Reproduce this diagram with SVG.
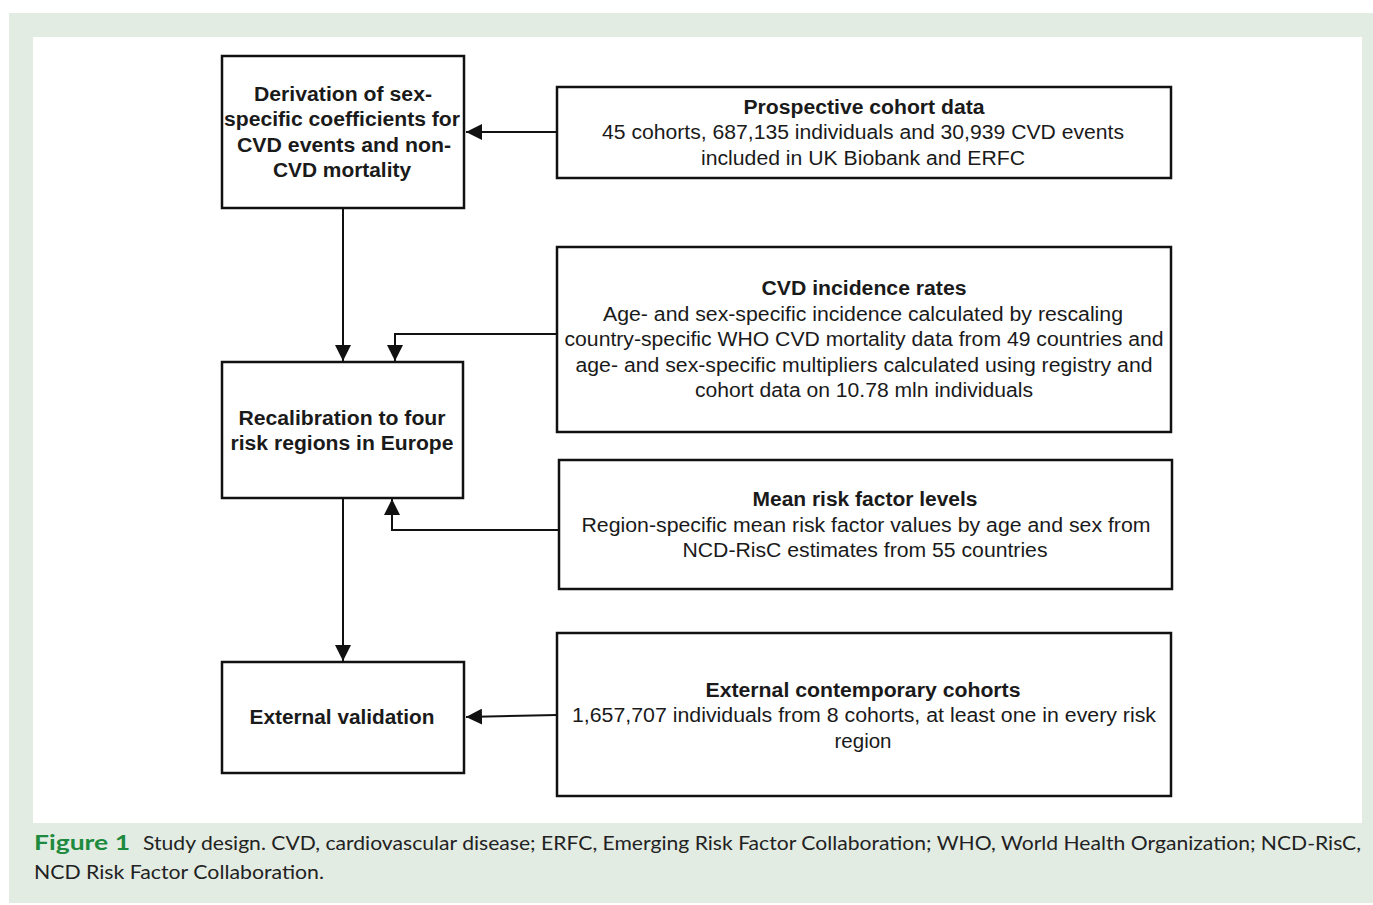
<svg xmlns="http://www.w3.org/2000/svg" width="1373" height="905" viewBox="0 0 1373 905">
<style>
.box{fill:#fff;stroke:#111;stroke-width:2.5}
.t{font-family:"Liberation Sans",Arial,sans-serif;font-size:20px;fill:#1a1a1a;text-anchor:middle}
.b{font-weight:bold}
.c{fill:none;stroke:#111;stroke-width:2}
.cap{font-family:Lato,"Open Sans",sans-serif;font-size:20px;fill:#222}
</style>
<defs>
<marker id="ah" markerUnits="userSpaceOnUse" markerWidth="18" markerHeight="16" refX="16" refY="8" orient="auto">
<path d="M0,0 L16,8 L0,16 Z" fill="#111"/>
</marker>
</defs>
<rect x="0" y="0" width="1373" height="905" fill="#fff"/>
<rect x="9" y="13" width="1364" height="890" fill="#e2ece3"/>
<rect x="33" y="37" width="1329" height="786" fill="#fff"/>

<g id="connectors">
<line class="c" x1="557" y1="132" x2="466" y2="132" marker-end="url(#ah)"/>
<line class="c" x1="343" y1="209" x2="343" y2="361" marker-end="url(#ah)"/>
<path class="c" d="M557,334 H395 V361" marker-end="url(#ah)"/>
<path class="c" d="M559,530 H392 V499" marker-end="url(#ah)"/>
<line class="c" x1="343" y1="498" x2="343" y2="661" marker-end="url(#ah)"/>
<line class="c" x1="557" y1="715" x2="466" y2="717" marker-end="url(#ah)"/>
</g>

<g id="derivation">
<rect class="box" x="222" y="56" width="242" height="152"/>
<text class="t b" x="343" y="101" textLength="178" lengthAdjust="spacingAndGlyphs">Derivation of sex-</text>
<text class="t b" x="342" y="126" textLength="236" lengthAdjust="spacingAndGlyphs">specific coefficients for</text>
<text class="t b" x="344" y="152" textLength="214" lengthAdjust="spacingAndGlyphs">CVD events and non-</text>
<text class="t b" x="342" y="177" textLength="138" lengthAdjust="spacingAndGlyphs">CVD mortality</text>
</g>

<g id="prospective">
<rect class="box" x="557" y="87" width="614" height="91"/>
<text class="t b" x="864" y="114" textLength="241" lengthAdjust="spacingAndGlyphs">Prospective cohort data</text>
<text class="t" x="863" y="139" textLength="522" lengthAdjust="spacingAndGlyphs">45 cohorts, 687,135 individuals and 30,939 CVD events</text>
<text class="t" x="863" y="165" textLength="324" lengthAdjust="spacingAndGlyphs">included in UK Biobank and ERFC</text>
</g>

<g id="incidence">
<rect class="box" x="557" y="247" width="614" height="185"/>
<text class="t b" x="864" y="295" textLength="205" lengthAdjust="spacingAndGlyphs">CVD incidence rates</text>
<text class="t" x="863" y="321" textLength="520" lengthAdjust="spacingAndGlyphs">Age- and sex-specific incidence calculated by rescaling</text>
<text class="t" x="864" y="346" textLength="599" lengthAdjust="spacingAndGlyphs">country-specific WHO CVD mortality data from 49 countries and</text>
<text class="t" x="864" y="372" textLength="577" lengthAdjust="spacingAndGlyphs">age- and sex-specific multipliers calculated using registry and</text>
<text class="t" x="864" y="397" textLength="338" lengthAdjust="spacingAndGlyphs">cohort data on 10.78 mln individuals</text>
</g>

<g id="recalibration">
<rect class="box" x="222" y="362" width="241" height="136"/>
<text class="t b" x="342" y="425" textLength="207" lengthAdjust="spacingAndGlyphs">Recalibration to four</text>
<text class="t b" x="342" y="450" textLength="223" lengthAdjust="spacingAndGlyphs">risk regions in Europe</text>
</g>

<g id="meanrisk">
<rect class="box" x="559" y="460" width="613" height="129"/>
<text class="t b" x="865" y="506" textLength="225" lengthAdjust="spacingAndGlyphs">Mean risk factor levels</text>
<text class="t" x="866" y="532" textLength="569" lengthAdjust="spacingAndGlyphs">Region-specific mean risk factor values by age and sex from</text>
<text class="t" x="865" y="557" textLength="365" lengthAdjust="spacingAndGlyphs">NCD-RisC estimates from 55 countries</text>
</g>

<g id="extcohorts">
<rect class="box" x="557" y="633" width="614" height="163"/>
<text class="t b" x="863" y="697" textLength="315" lengthAdjust="spacingAndGlyphs">External contemporary cohorts</text>
<text class="t" x="864" y="722" textLength="584" lengthAdjust="spacingAndGlyphs">1,657,707 individuals from 8 cohorts, at least one in every risk</text>
<text class="t" x="863" y="748" textLength="57" lengthAdjust="spacingAndGlyphs">region</text>
</g>

<g id="extvalidation">
<rect class="box" x="222" y="662" width="242" height="111"/>
<text class="t b" x="342" y="724" textLength="185" lengthAdjust="spacingAndGlyphs">External validation</text>
</g>

<g id="caption">
<text class="cap" x="34" y="850" font-weight="bold" fill="#1e8a3e" style="fill:#1e8a3e" textLength="96" lengthAdjust="spacingAndGlyphs">Figure 1</text>
<text class="cap" x="143" y="850" textLength="1218" lengthAdjust="spacingAndGlyphs">Study design. CVD, cardiovascular disease; ERFC, Emerging Risk Factor Collaboration; WHO, World Health Organization; NCD-RisC,</text>
<text class="cap" x="34" y="879" textLength="290" lengthAdjust="spacingAndGlyphs">NCD Risk Factor Collaboration.</text>
</g>
</svg>
